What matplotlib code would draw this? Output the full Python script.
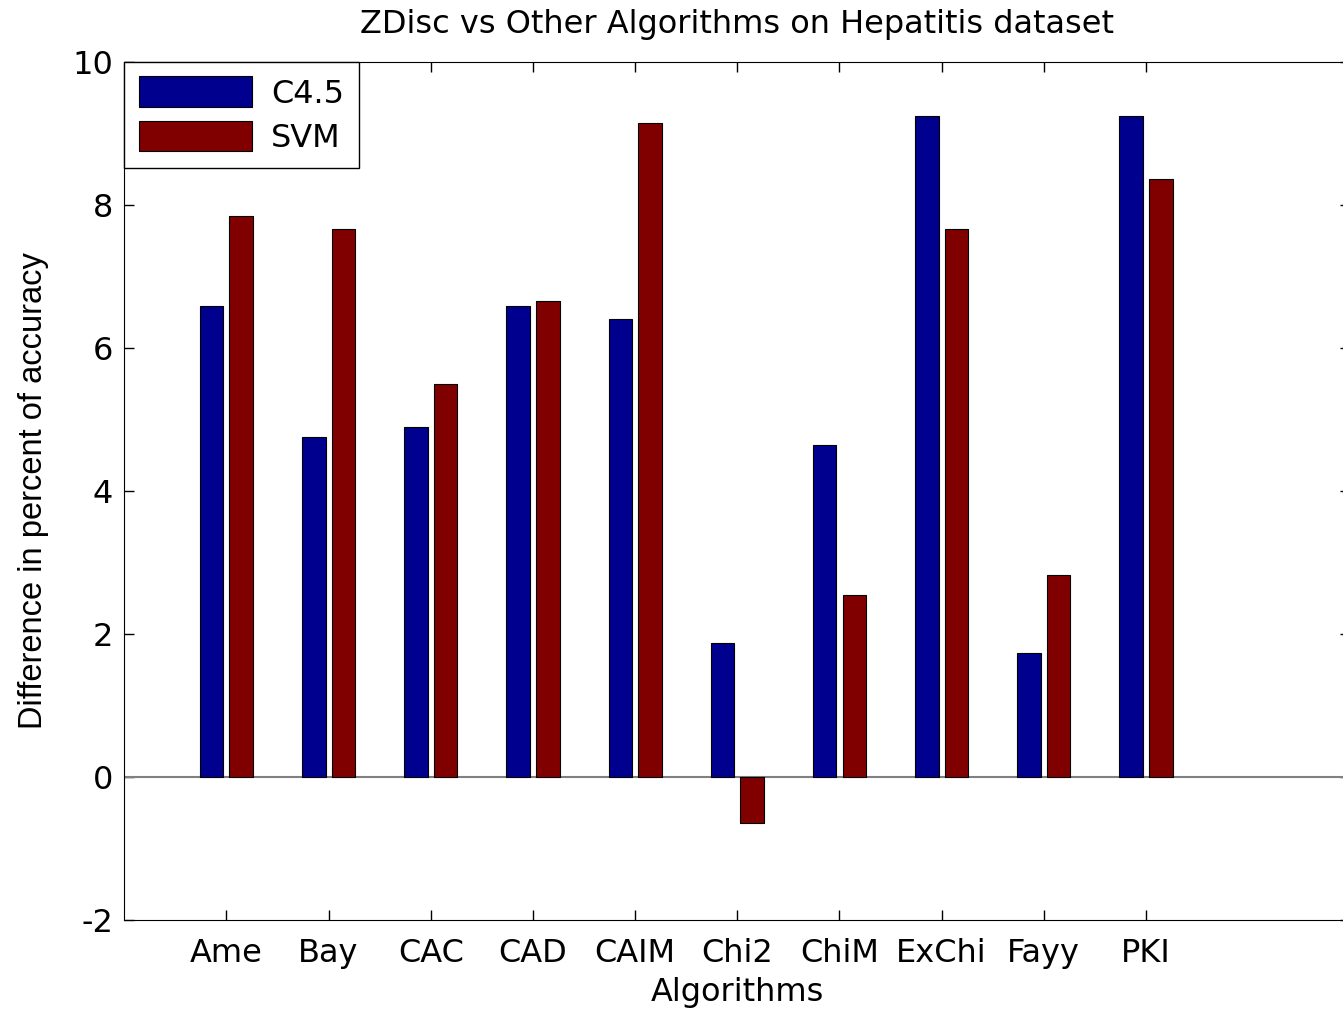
"""
ZDisc vs other discretization algorithms - Hepatitis dataset
"""

import numpy as np
import matplotlib
matplotlib.use("Agg")
import matplotlib.pyplot as plt

# data
# --------------------------
algorithms = ["Ame", "Bay", "CAC", "CAD", "CAIM", "Chi2", "ChiM", "ExChi", "Fayy", "PKI"]
c45_diff = [6.58, 4.75, 4.89, 6.58, 6.40, 1.87, 4.64, 9.25, 1.73, 9.25]
svm_diff = [7.84, 7.67, 5.49, 6.65, 9.14, -0.64, 2.54, 7.66, 2.82, 8.37]

plt.rcParams["font.family"] = ["DejaVu Sans"]
plt.rcParams["axes.unicode_minus"] = False

fig = plt.figure(figsize=(13.43, 10.14), dpi=100)
ax = fig.add_axes([0.0925, 0.0927, 0.913, 0.8462])

x = np.arange(1, len(algorithms) + 1)
width = 0.23
ax.bar(x - 0.145, c45_diff, width, color="#00008F", edgecolor="black", linewidth=0.8,
       label="C4.5", zorder=3)
ax.bar(x + 0.145, svm_diff, width, color="#800000", edgecolor="black", linewidth=0.8,
       label="SVM", zorder=3)
ax.axhline(0, color="#808080", linewidth=1.5, zorder=2)

ax.set_xlim(0, 12)
ax.set_ylim(-2, 10)
ax.set_xticks(x)
ax.set_xticklabels(algorithms, fontsize=23)
ax.set_yticks(np.arange(-2, 11, 2))
ax.tick_params(axis="y", labelsize=23, pad=8)
ax.tick_params(axis="x", pad=13)
ax.tick_params(direction="in", length=7, width=1, top=True, right=True)

ax.set_title("ZDisc vs Other Algorithms on Hepatitis dataset", fontsize=23, pad=21)
ax.set_xlabel("Algorithms", fontsize=23, labelpad=6)
# y label is not widened in the original, Arial-like font fits its length better
ax.set_ylabel("Difference in percent of accuracy", fontsize=23.5, labelpad=17,
              family=["Liberation Sans", "DejaVu Sans"])

leg = ax.legend(loc="upper left", fontsize=23, borderaxespad=0, handlelength=3.55,
                handleheight=1.1, handletextpad=0.6, labelspacing=0.35,
                borderpad=0.45, fancybox=False, framealpha=1)
leg.get_frame().set_edgecolor("black")
leg.get_frame().set_linewidth(1)

fig.savefig("out.png", dpi=100)
